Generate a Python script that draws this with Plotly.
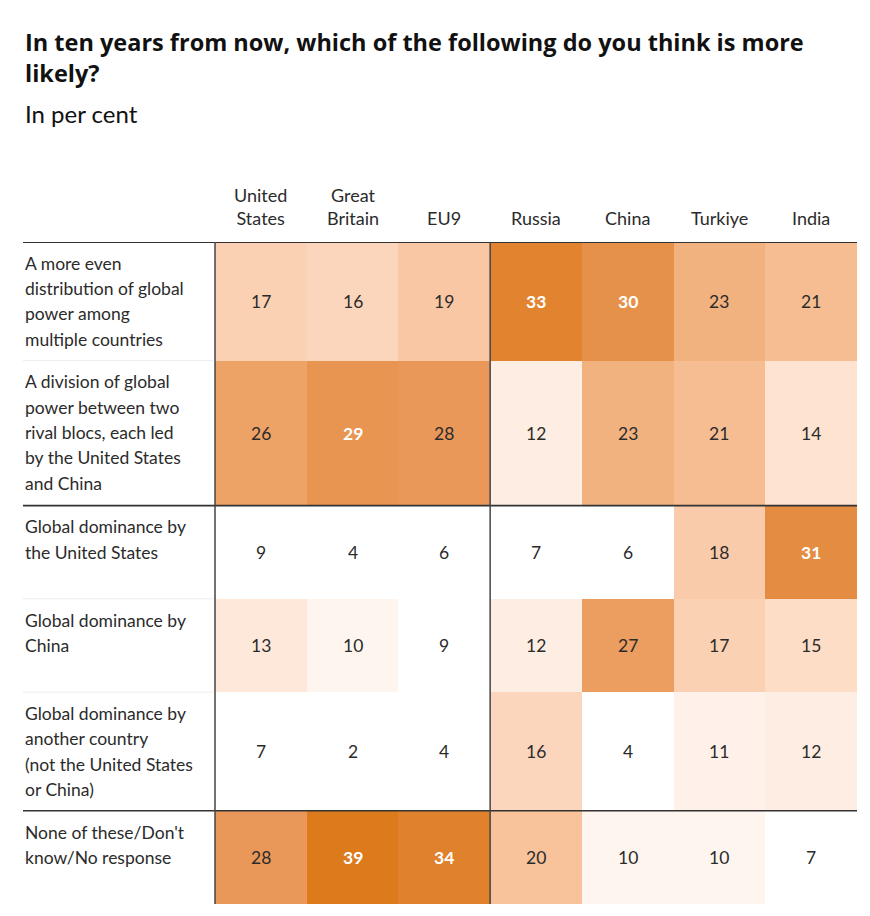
import plotly.graph_objects as go
import numpy as np

# columns and rows of the table
countries = ["United<br>States", "Great<br>Britain", "EU9", "Russia", "China", "Turkiye", "India"]
answers = [
    "A more even<br>distribution of global<br>power among<br>multiple countries",
    "A division of global<br>power between two<br>rival blocs, each led<br>by the United States<br>and China",
    "Global dominance by<br>the United States",
    "Global dominance by<br>China",
    "Global dominance by<br>another country<br>(not the United States<br>or China)",
    "None of these/Don't<br>know/No response",
]

# per cent, one list per country, in the order of answers
united_states = [17, 26, 9, 13, 7, 28]
great_britain = [16, 29, 4, 10, 2, 39]
eu9 = [19, 28, 6, 9, 4, 34]
russia = [33, 12, 7, 12, 16, 20]
china = [30, 23, 6, 27, 4, 10]
turkiye = [23, 21, 18, 17, 11, 10]
india = [21, 14, 31, 15, 12, 7]

z = np.array([united_states, great_britain, eu9, russia, china, turkiye, india]).T

FONT = "Lato"
DARK = "#2b2b2b"

# row heights follow the number of lines in the label
n_lines = [a.count("<br>") + 1 for a in answers]
heights = [max(92, 26 * n + 13) for n in n_lines]
y_edges = np.concatenate([[0], np.cumsum(heights)])
total_h = y_edges[-1]
x_edges = np.arange(len(countries) + 1)

# the page body adds an 8px offset, so the figure is a bit smaller
W, H = 862, 908
m_l, m_r, m_t, m_b = 15, 13, 234, 12
plot_w = W - m_l - m_r
plot_h = H - m_t - m_b
label_w = len(countries) * 192 / 642  # label column in x units


def py(p):
    # pixel row (in the page) -> paper y
    return (H - m_b - (p - 8)) / plot_h


cscale = [
    [9, "#FFFFFF"], [10, "#FFF5EF"], [12, "#FEEDE2"], [14, "#FDE3D0"],
    [16, "#FCD6BC"], [18, "#FACBAA"], [20, "#F8C39B"], [23, "#F2B280"],
    [26, "#EDA266"], [28, "#EA985A"], [30, "#E6914A"], [33, "#E1832F"],
    [39, "#DC7A1C"],
]
zmin, zmax = cscale[0][0], cscale[-1][0]
colorscale = [[(v - zmin) / (zmax - zmin), c] for v, c in cscale]

fig = go.Figure(go.Heatmap(
    z=z, x=x_edges, y=y_edges,
    zmin=zmin, zmax=zmax, colorscale=colorscale,
    showscale=False, hoverinfo="skip",
))

annotations = []

# title and subtitle
annotations.append(dict(
    text="<b>In ten years from now, which of the following do you think is more<br>likely?</b>",
    xref="paper", yref="paper", x=0, y=py(24), xanchor="left", yanchor="top",
    align="left", showarrow=False, font=dict(family="Open Sans", size=23.5, color="#111")))
annotations.append(dict(
    text="In per cent",
    xref="paper", yref="paper", x=0, y=py(113), xanchor="left", yanchor="middle",
    showarrow=False, font=dict(family=FONT, size=24, color="#111")))

# column headers
for j, c in enumerate(countries):
    annotations.append(dict(
        text=c, xref="x", yref="paper", x=j + 0.5, y=py(231),
        xanchor="center", yanchor="bottom", align="center", showarrow=False,
        font=dict(family=FONT, size=18, color=DARK)))

# row labels, one annotation per line
for i, a in enumerate(answers):
    for k, line in enumerate(a.split("<br>")):
        annotations.append(dict(
            text=line, xref="x", yref="y", x=-label_w, y=y_edges[i] + 21 + 25 * k,
            xanchor="left", yanchor="middle", showarrow=False,
            font=dict(family=FONT, size=17.5, color=DARK)))

# cell values
for i in range(len(answers)):
    for j in range(len(countries)):
        v = z[i, j]
        annotations.append(dict(
            text=f"<b>{v}</b>" if v >= 29 else str(v),
            xref="x", yref="y", x=j + 0.5, y=(y_edges[i] + y_edges[i + 1]) / 2,
            showarrow=False,
            font=dict(family=FONT, size=17.5, color="white" if v >= 29 else DARK)))

shapes = []
# horizontal rules: dark between groups, light otherwise
dark_rows = [0, 2, 5]
for i in range(len(answers)):
    y = y_edges[i]
    if i in dark_rows:
        shapes.append(dict(type="line", xref="x", yref="y", x0=-label_w, x1=len(countries),
                           y0=y, y1=y, line=dict(color="#333", width=2 if i == 0 else 1.6)))
    else:
        shapes.append(dict(type="line", xref="x", yref="y", x0=-label_w, x1=-0.02,
                           y0=y, y1=y, line=dict(color="#ececec", width=1)))
# vertical rules
for xv in [0, 3]:
    shapes.append(dict(type="line", xref="x", yref="y", x0=xv, x1=xv, y0=0, y1=total_h,
                       line=dict(color="#444", width=1.5)))

fig.update_layout(
    width=W, height=H,
    margin=dict(l=m_l, r=m_r, t=m_t, b=m_b),
    paper_bgcolor="white", plot_bgcolor="white",
    xaxis=dict(range=[-label_w, len(countries)], visible=False, fixedrange=True),
    yaxis=dict(range=[total_h, 0], visible=False, fixedrange=True),
    annotations=annotations, shapes=shapes,
    font=dict(family=FONT),
)

fig.write_html("out.html")
